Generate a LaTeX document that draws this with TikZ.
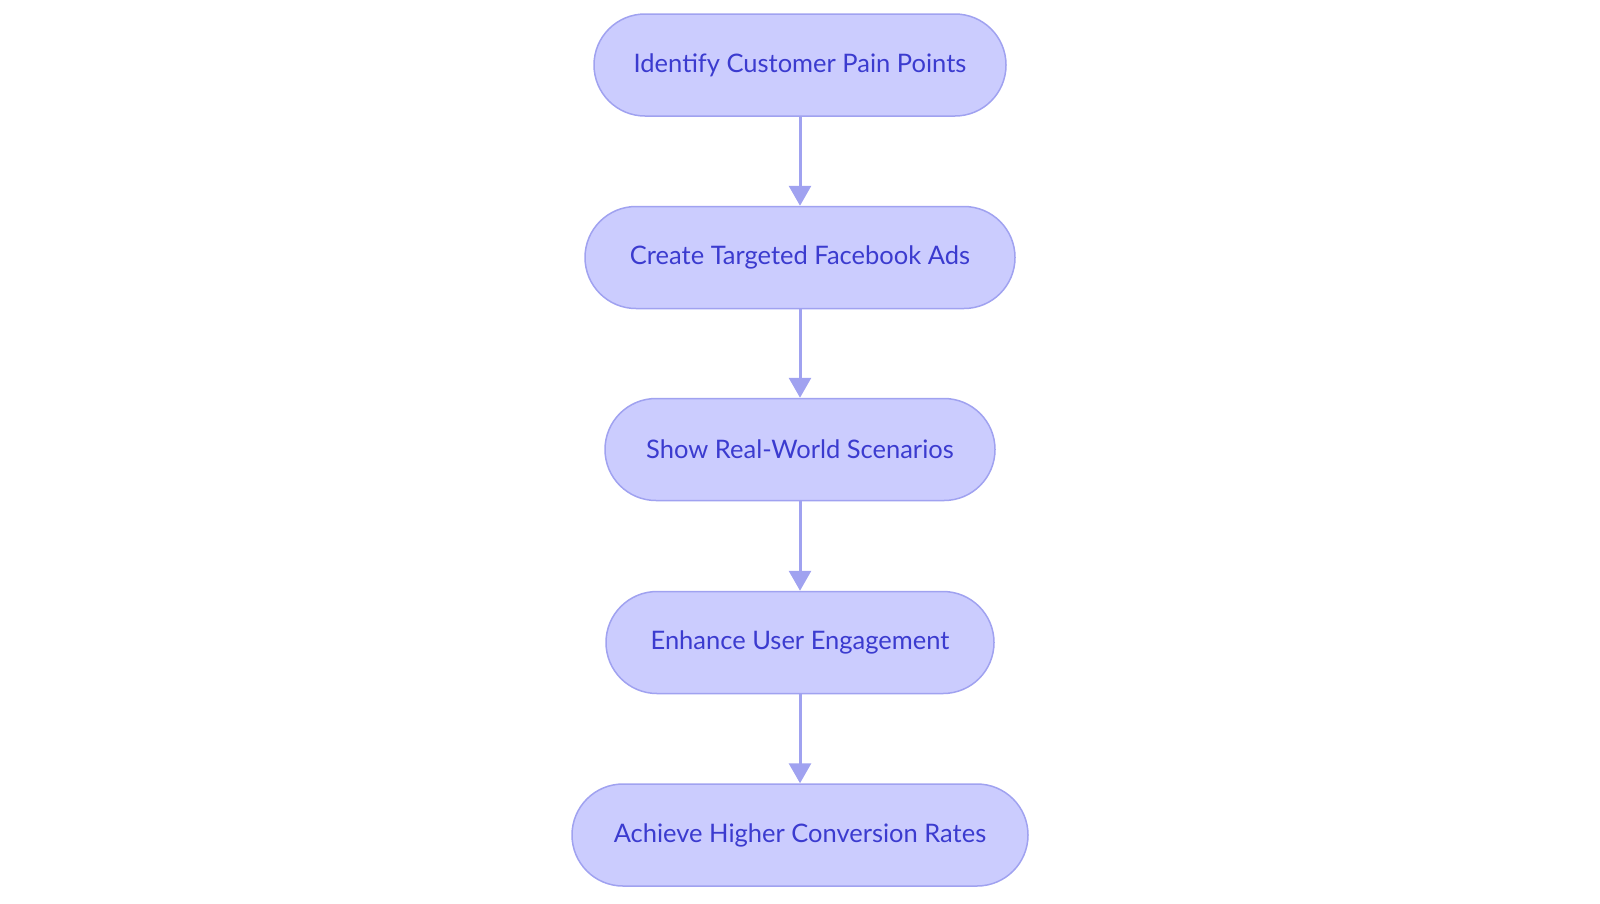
\documentclass[tikz,border=0pt]{standalone}
\usepackage{fontspec}
\setmainfont{Lato}
\usetikzlibrary{arrows.meta}
\definecolor{boxfill}{HTML}{CBCCFE}
\definecolor{boxline}{HTML}{A0A2F0}
\definecolor{boxtext}{HTML}{3B3BCF}
\tikzset{
  stepbox/.style={draw=boxline, line width=1.5pt, fill=boxfill, rounded corners=51pt,
    minimum height=102pt, text=boxtext, font=\fontsize{25.5pt}{30pt}\selectfont, inner sep=0pt},
  conn/.style={draw=boxline, line width=3pt, -{Triangle[width=22pt,length=20pt]}}
}
\begin{document}
\begin{tikzpicture}[x=1pt,y=-1pt]
\useasboundingbox (0,0) rectangle (1600,903);
\node[stepbox, minimum width=412pt] (a) at (800,65) {Identify Customer Pain Points};
\node[stepbox, minimum width=430pt] (b) at (800,257.5) {Create Targeted Facebook Ads};
\node[stepbox, minimum width=390pt] (c) at (800,449.5) {Show Real-World Scenarios};
\node[stepbox, minimum width=388pt] (d) at (800,642.5) {Enhance User Engagement};
\node[stepbox, minimum width=456pt] (e) at (800,835) {Achieve Higher Conversion Rates};
\draw[conn] (a) -- (b);
\draw[conn] (b) -- (c);
\draw[conn] (c) -- (d);
\draw[conn] (d) -- (e);
\end{tikzpicture}
\end{document}
